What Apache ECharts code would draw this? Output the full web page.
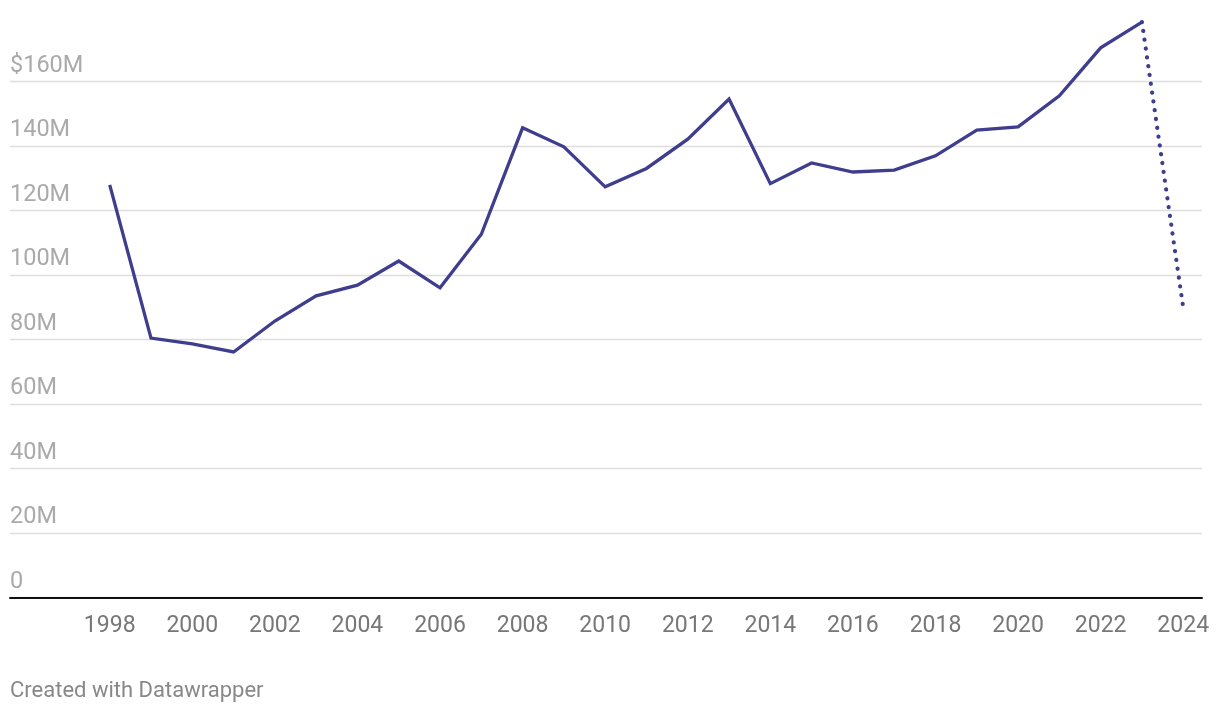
<!DOCTYPE html>
<html>
<head>
<meta charset="utf-8">
<script src="https://cdn.jsdelivr.net/npm/echarts@6/dist/echarts.min.js"></script>
<style>
html,body{margin:0;padding:0;background:#fff;}
#chart{width:1220px;height:714px;}
</style>
</head>
<body>
<div id="chart"></div>
<script>
// Years and values (millions of dollars)
var years = [1998,1999,2000,2001,2002,2003,2004,2005,2006,2007,2008,2009,2010,2011,2012,2013,2014,2015,2016,2017,2018,2019,2020,2021,2022,2023];
var values = [128.0,80.5,78.7,76.2,85.8,93.6,96.9,104.4,96.1,112.7,145.7,139.8,127.4,133.1,142.2,154.6,128.4,134.8,132.0,132.6,137.0,145.0,146.0,155.6,170.5,178.5];
// Projected (dotted) segment
var projYears = [2023, 2024];
var projValues = [178.5, 89.9];
// Tick labels
var xTicks = [1998,2000,2002,2004,2006,2008,2010,2012,2014,2016,2018,2020,2022,2024];
var yTicks = [0,20,40,60,80,100,120,140,160];

var lineColor = '#3e3d8e';
var chart = echarts.init(document.getElementById('chart'));
var mainData = years.map(function(y,i){return [y, values[i]];});
var projData = projYears.map(function(y,i){return [y, projValues[i]];});

chart.setOption({
  animation: false,
  textStyle: {fontFamily: 'Roboto'},
  grid: {left: 10, right: 18, top: 81.7, bottom: 116.3, containLabel: false},
  xAxis: {
    type: 'value',
    min: 1995.585,
    max: 2024.455,
    axisLine: {show: true, lineStyle: {color: '#111', width: 2}},
    axisTick: {show: false},
    splitLine: {show: false},
    axisLabel: {
      customValues: xTicks,
      color: '#777',
      fontSize: 23,
      fontFamily: 'Roboto',
      margin: 17,
      formatter: function(v){return String(v);}
    }
  },
  yAxis: {
    type: 'value',
    min: 0,
    max: 160,
    interval: 20,
    axisLine: {show: false},
    axisTick: {show: false},
    splitLine: {show: true, lineStyle: {color: '#dedede', width: 1.3}},
    axisLabel: {
      inside: true,
      margin: 0,
      color: '#aaa',
      fontSize: 23.5,
      fontFamily: 'Roboto',
      verticalAlign: 'bottom',
      padding: [0,0,4,0],
      formatter: function(v){
        if (v === 0) return '0';
        if (v === yTicks[yTicks.length-1]) return '$' + v + 'M';
        return v + 'M';
      }
    }
  },
  series: [
    {
      type: 'line',
      data: mainData,
      clip: false,
      symbol: 'none',
      lineStyle: {color: lineColor, width: 3.3, join: 'miter'},
      z: 3
    },
    {
      type: 'line',
      data: projData,
      clip: false,
      symbol: 'none',
      lineStyle: {color: lineColor, width: 4.2, type: [0.1, 8.8], cap: 'round'},
      z: 3
    }
  ],
  graphic: [{
    type: 'text',
    left: 10,
    top: 680,
    style: {text: 'Created with Datawrapper', fill: '#888', font: '22px Roboto'}
  }]
});
</script>
</body>
</html>
